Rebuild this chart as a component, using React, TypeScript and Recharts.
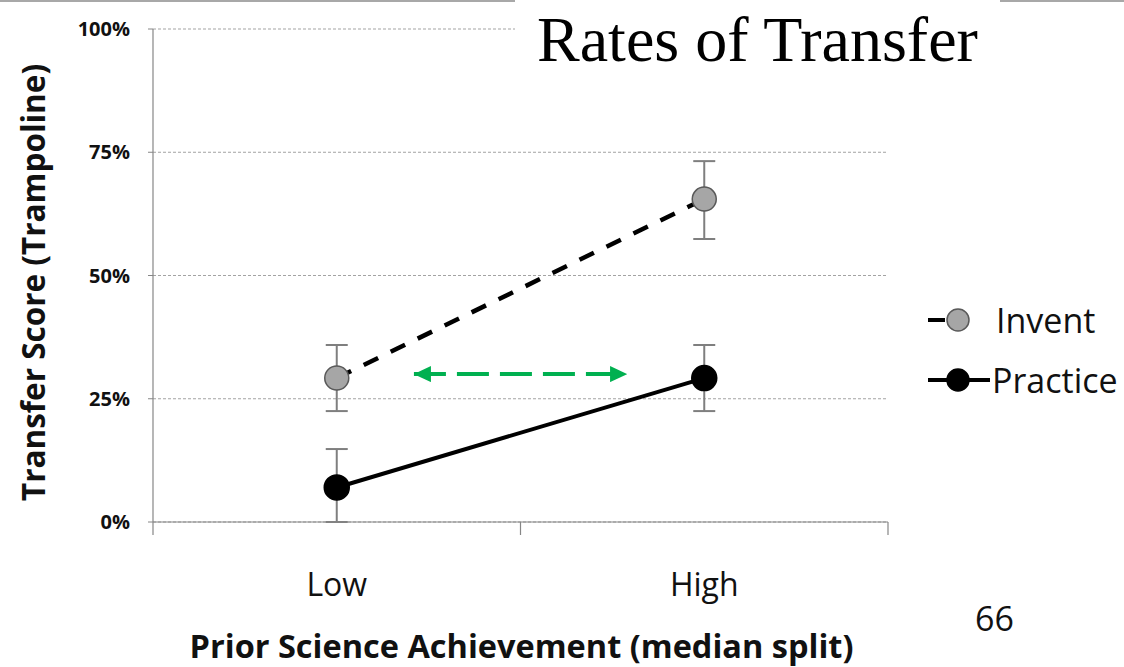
import {
  LineChart,
  Line,
  XAxis,
  YAxis,
  CartesianGrid,
  ErrorBar,
  Legend,
  ReferenceLine,
} from "recharts";

const LEVELS = ["Low", "High"];
const INVENT = [0.292, 0.655];
const INVENT_ERR = [
  [0.067, 0.067],
  [0.081, 0.077],
];
const PRACTICE = [0.07, 0.292];
const PRACTICE_ERR = [
  [0.07, 0.078],
  [0.067, 0.067],
];
const Y_TICKS = [0, 0.25, 0.5, 0.75, 1];
const X_TICKS = [0, 0.5, 1, 1.5, 2];
// green "gap" arrow, in data units
const GAP_FROM = 0.71;
const GAP_TO = 1.29;
const GAP_AT = 0.3;

const AXIS = "#868686";
const GRID = "#a3a3a3";
const ERR = "#7f7f7f";
const GREEN = "#00b050";
const SANS = "'Open Sans', sans-serif";

const data = LEVELS.map((level, i) => ({
  level,
  pos: i + 0.5,
  invent: INVENT[i],
  inventErr: INVENT_ERR[i],
  practice: PRACTICE[i],
  practiceErr: PRACTICE_ERR[i],
}));

const SERIES: Record<string, { dash?: string; fill: string; stroke: string }> = {
  invent: { dash: "16 14", fill: "#a6a6a6", stroke: "#595959" },
  practice: { fill: "#000", stroke: "#000" },
};

function XTick({ x, y, payload }: any) {
  const v = payload.value as number;
  if (Number.isInteger(v)) {
    return <line x1={x} x2={x} y1={y} y2={y + 13} stroke={AXIS} strokeWidth={1.2} />;
  }
  return (
    <text
      x={x}
      y={y + 61}
      textAnchor="middle"
      dominantBaseline="central"
      fontFamily={SANS}
      fontSize={32}
      fill="#111"
    >
      {LEVELS[Math.floor(v)]}
    </text>
  );
}

function LegendContent({ payload }: any) {
  return (
    <div style={{ display: "flex", flexDirection: "column", gap: 22 }}>
      {(payload ?? []).map((p: any) => {
        const s = SERIES[p.dataKey];
        return (
          <div key={p.dataKey} style={{ display: "flex", alignItems: "center", height: 38 }}>
            <svg width={72} height={30}>
              <line
                x1={8}
                x2={70}
                y1={15}
                y2={15}
                stroke="#000"
                strokeWidth={4}
                strokeDasharray={s.dash ? "17 100" : undefined}
              />
              <circle cx={38} cy={15} r={11} fill={s.fill} stroke={s.stroke} strokeWidth={1.5} />
            </svg>
            <span
              style={{
                fontFamily: SANS,
                fontSize: 34,
                color: "#111",
                marginLeft: s.dash ? 4 : 0,
                lineHeight: 1,
              }}
            >
              {p.value}
            </span>
          </div>
        );
      })}
    </div>
  );
}

export default function App() {
  return (
    <div
      style={{
        position: "fixed",
        left: 0,
        top: 0,
        width: 1124,
        height: 667,
        background: "#fff",
        overflow: "hidden",
      }}
    >
      <LineChart
        width={1124}
        height={667}
        data={data}
        margin={{ top: 29, right: 236, bottom: 0, left: 0 }}
      >
        <defs>
          <marker
            id="gapArrow"
            markerUnits="userSpaceOnUse"
            markerWidth={17}
            markerHeight={16}
            refX={17}
            refY={8}
            orient="auto-start-reverse"
          >
            <path d="M0,0 L17,8 L0,16 z" fill={GREEN} />
          </marker>
        </defs>
        <CartesianGrid vertical={false} stroke={GRID} strokeDasharray="3 2" />
        <XAxis
          type="number"
          dataKey="pos"
          domain={[0, 2]}
          ticks={X_TICKS}
          interval={0}
          tick={(props: any) => <XTick {...props} />}
          tickLine={false}
          tickSize={0}
          tickMargin={0}
          axisLine={{ stroke: AXIS, strokeWidth: 1.2 }}
          height={145}
          label={{
            content: ({ viewBox }: any) => (
              <text
                x={viewBox.x + viewBox.width / 2 + 1}
                y={viewBox.y + 123}
                textAnchor="middle"
                dominantBaseline="central"
                fontFamily={SANS}
                fontWeight={700}
                fontSize={32.5}
                fill="#111"
              >
                Prior Science Achievement (median split)
              </text>
            ),
          }}
        />
        <YAxis
          domain={[0, 1]}
          ticks={Y_TICKS}
          width={153}
          tickSize={5}
          tickMargin={18}
          tickLine={{ stroke: AXIS }}
          axisLine={{ stroke: AXIS, strokeWidth: 1.2 }}
          tick={{ fontFamily: SANS, fontWeight: 700, fontSize: 20, fill: "#111" }}
          tickFormatter={(v: number) => `${Math.round(v * 100)}%`}
          label={{
            content: ({ viewBox }: any) => {
              const cx = viewBox.x + 32;
              const cy = viewBox.y + viewBox.height / 2 + 7;
              return (
                <text
                  x={cx}
                  y={cy}
                  transform={`rotate(-90 ${cx} ${cy})`}
                  textAnchor="middle"
                  dominantBaseline="central"
                  fontFamily={SANS}
                  fontWeight={700}
                  fontSize={31.5}
                  fill="#111"
                >
                  Transfer Score (Trampoline)
                </text>
              );
            },
          }}
        />
        <ReferenceLine
          segment={[
            { x: GAP_FROM, y: GAP_AT },
            { x: GAP_TO, y: GAP_AT },
          ]}
          stroke={GREEN}
          strokeWidth={4}
          strokeDasharray="32 11"
          markerStart="url(#gapArrow)"
          markerEnd="url(#gapArrow)"
        />
        <Line
          dataKey="invent"
          name="Invent"
          stroke="#000"
          strokeWidth={4.5}
          strokeDasharray="16 14"
          dot={{ r: 12, fill: "#a6a6a6", stroke: "#595959", strokeWidth: 1.5, strokeDasharray: "none" }}
          activeDot={false}
          isAnimationActive={false}
        >
          <ErrorBar dataKey="inventErr" width={11} stroke={ERR} strokeWidth={2} direction="y" />
        </Line>
        <Line
          dataKey="practice"
          name="Practice"
          stroke="#000"
          strokeWidth={4}
          dot={{ r: 12.5, fill: "#000", stroke: "#000", strokeWidth: 1.5 }}
          activeDot={false}
          isAnimationActive={false}
        >
          <ErrorBar dataKey="practiceErr" width={11} stroke={ERR} strokeWidth={2} direction="y" />
        </Line>
        <Legend
          layout="vertical"
          align="center"
          verticalAlign="middle"
          wrapperStyle={{ left: 920, top: 301, width: 204 }}
          content={(props: any) => <LegendContent payload={props.payload} />}
        />
      </LineChart>

      <div
        style={{
          position: "absolute",
          left: 0,
          top: 0,
          width: 1124,
          height: 2,
          background: "#a8a8a8",
        }}
      />
      <div
        style={{
          position: "absolute",
          left: 515,
          top: 0,
          width: 485,
          height: 80,
          background: "#fff",
          fontFamily: "'Liberation Serif', 'Times New Roman', serif",
          fontSize: 64,
          lineHeight: "80px",
          paddingLeft: 22,
          boxSizing: "border-box",
          color: "#000",
          whiteSpace: "nowrap",
        }}
      >
        Rates of Transfer
      </div>
      <div
        style={{
          position: "absolute",
          left: 975,
          top: 601,
          fontFamily: SANS,
          fontSize: 34,
          color: "#111",
          lineHeight: 1,
        }}
      >
        66
      </div>
    </div>
  );
}
